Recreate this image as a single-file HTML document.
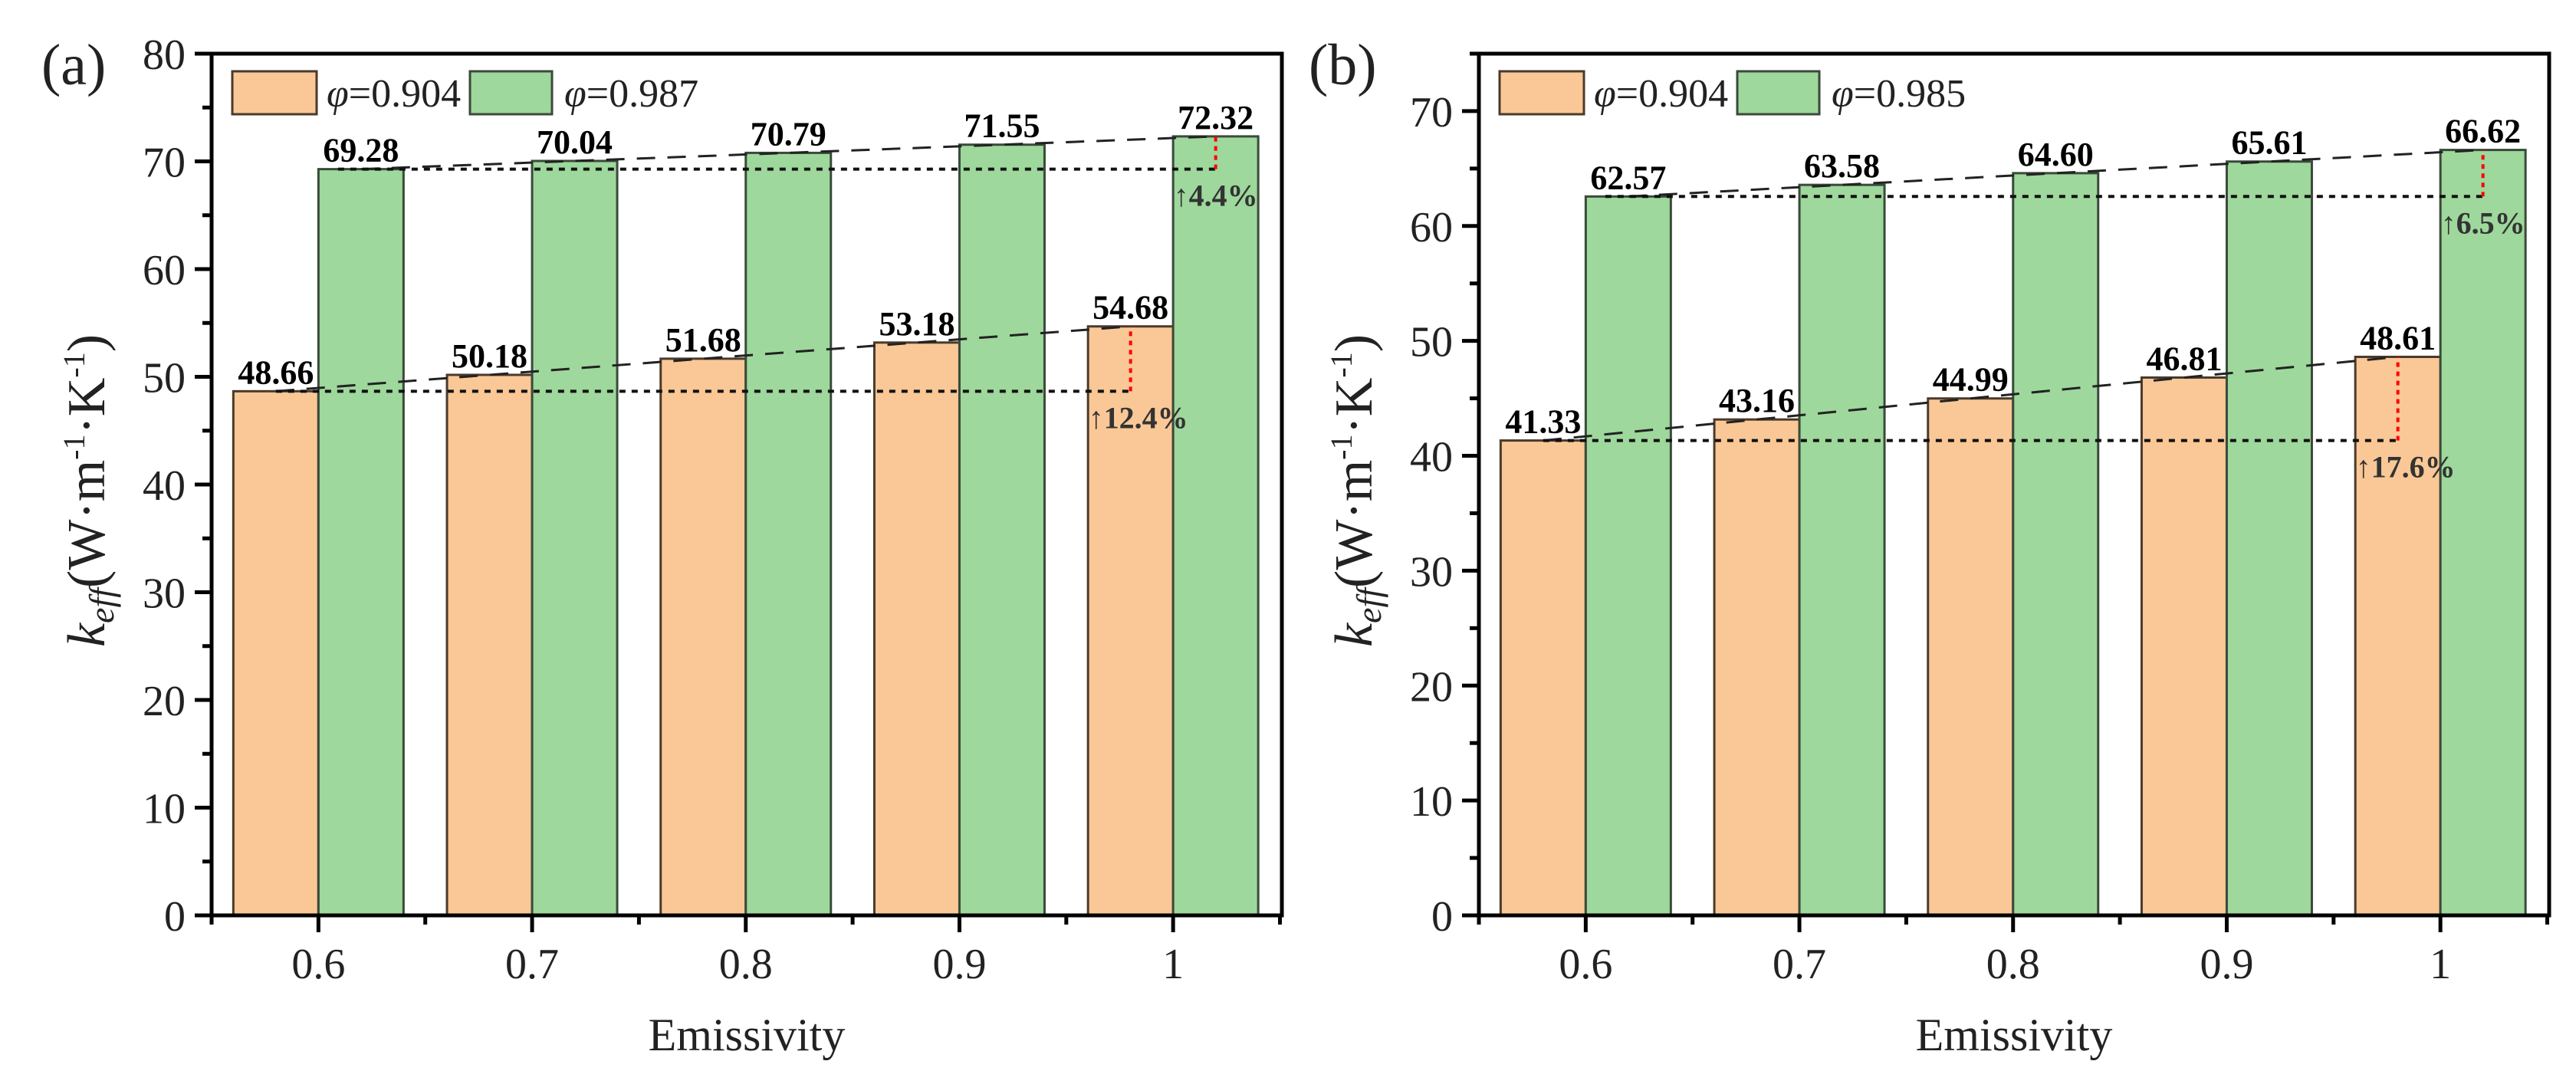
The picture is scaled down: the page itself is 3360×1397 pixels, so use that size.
<!DOCTYPE html>
<html><head><meta charset="utf-8"><style>
html,body{margin:0;padding:0;background:#fff;}
svg{display:block;font-family:"Liberation Serif",serif;}
</style></head><body>
<svg id="chart" width="3360" height="1397" viewBox="0 0 3360 1397" xmlns="http://www.w3.org/2000/svg"></svg>
<script>
const categories = ["0.6","0.7","0.8","0.9","1"];
const seriesA1 = [48.66,50.18,51.68,53.18,54.68];
const seriesA2 = [69.28,70.04,70.79,71.55,72.32];
const seriesB1 = [41.33,43.16,44.99,46.81,48.61];
const seriesB2 = [62.57,63.58,64.60,65.61,66.62];
const legendA = ["φ=0.904","φ=0.987"];
const legendB = ["φ=0.904","φ=0.985"];
const ticksA = [0,10,20,30,40,50,60,70,80];
const ticksB = [0,10,20,30,40,50,60,70];
const pctA = ["12.4%","4.4%"];
const pctB = ["17.6%","6.5%"];

const NS="http://www.w3.org/2000/svg";
const svg=document.getElementById('chart');
function mk(tag,attrs,parent,text){const e=document.createElementNS(NS,tag);for(const k in attrs)e.setAttribute(k,attrs[k]);if(text!==undefined)e.textContent=text;(parent||svg).appendChild(e);return e;}

function panel(ox,ymax,s1,s2,ticks,leg,pct,letter,id){
  const L=ox, R=ox+1396, T=70, B=1194, step=278.7, bw=111;
  const g=mk('g',{});
  
  
  const y=v=>B-(v/ymax)*(B-T);
  const xc=i=>L+139.35+i*step;
  for(let i=0;i<categories.length;i++){
    const r1=mk('rect',{x:xc(i)-bw,y:y(s1[i]),width:bw,height:B-y(s1[i]),fill:'#FAC896',stroke:'#4a3a2c','stroke-width':3},g);
    
    
    const r2=mk('rect',{x:xc(i),y:y(s2[i]),width:bw,height:B-y(s2[i]),fill:'#9ED89C',stroke:'#3a4a3a','stroke-width':3},g);
    
    
    const t1=mk('text',{x:xc(i)-bw/2,y:y(s1[i])-10,'font-size':44,'font-weight':'bold','text-anchor':'middle'},g,s1[i].toFixed(2));
    
    
    const t2=mk('text',{x:xc(i)+bw/2,y:y(s2[i])-10,'font-size':44,'font-weight':'bold','text-anchor':'middle'},g,s2[i].toFixed(2));
    
    
  }
  [[s1,-1],[s2,1]].forEach(([s,d],k)=>{
    const pts=s.map((v,i)=>(xc(i)+d*bw/2)+','+y(v)).join(' ');
    const pl=mk('polyline',{points:pts,fill:'none',stroke:'#222','stroke-width':3,'stroke-dasharray':'24,16'},g);
    
    
    const n=s.length-1, rx=xc(n)+d*bw/2;
    const ref=mk('line',{x1:xc(0)+d*bw/2-(d<0?0:30),y1:y(s[0]),x2:rx,y2:y(s[0]),stroke:'#111','stroke-width':4,'stroke-dasharray':'8,8'},g);
    
    
    const rd=mk('line',{x1:rx,y1:y(s[0]),x2:rx,y2:y(s[n]),stroke:'#f00','stroke-width':4,'stroke-dasharray':'6,6'},g);
    
    
    const pt=mk('text',{x:rx-55,y:y(s[0])+48,'font-size':40,'font-weight':'bold',fill:'#333'},g,'↑'+pct[k]);
    
    
  });
  const fr=mk('rect',{x:L,y:T,width:R-L,height:B-T,fill:'none',stroke:'#000','stroke-width':5},g);
  
  
  for(let v=0; v<=ymax; v+=5){
    const major=v%10===0;
    mk('line',{x1:L-(major?22:12),y1:y(v),x2:L,y2:y(v),stroke:'#000','stroke-width':5},g);
  }
  ticks.forEach(v=>{
    const t=mk('text',{x:L-34,y:y(v)+20,'font-size':56,'text-anchor':'end',fill:'#222'},g,String(v));
    
    
  });
  mk('line',{x1:L,y1:B,x2:L,y2:B+12,stroke:'#000','stroke-width':5},g);
  categories.forEach((c,i)=>{
    mk('line',{x1:xc(i),y1:B,x2:xc(i),y2:B+22,stroke:'#000','stroke-width':5},g);
    mk('line',{x1:xc(i)+step/2,y1:B,x2:xc(i)+step/2,y2:B+12,stroke:'#000','stroke-width':5},g);
    const t=mk('text',{x:xc(i),y:B+82,'font-size':56,'text-anchor':'middle',fill:'#222'},g,c);
    
    
  });
  const xt=mk('text',{x:L+698,y:1370,'font-size':60,'text-anchor':'middle',fill:'#222'},g,'Emissivity');
  
  
  const yt=mk('text',{x:0,y:0,'font-size':70,'text-anchor':'middle',fill:'#222',transform:`translate(${L-140},640) rotate(-90)`},g);
  
  
  mk('tspan',{'font-style':'italic'},yt,'k');
  mk('tspan',{'font-style':'italic','font-size':46,dy:12},yt,'eff');
  mk('tspan',{dy:-12},yt,'(W·m');
  mk('tspan',{'font-size':40,dy:-26},yt,'-1');
  mk('tspan',{dy:26},yt,'·K');
  mk('tspan',{'font-size':40,dy:-26},yt,'-1');
  mk('tspan',{dy:26},yt,')');
  const lt=mk('text',{x:L-222,y:110,'font-size':76,fill:'#222'},g,letter);
  
  
  const lg=mk('g',{},g);
  
  
  const s1r=mk('rect',{x:L+27,y:93,width:110,height:56,fill:'#FAC896',stroke:'#4a3a2c','stroke-width':3},lg);
  
  
  const l1=mk('text',{x:L+150,y:139,'font-size':52,fill:'#222'},lg);
  
  
  mk('tspan',{'font-style':'italic'},l1,'φ');mk('tspan',{},l1,leg[0].slice(1));
  const s2r=mk('rect',{x:L+337,y:93,width:107,height:56,fill:'#9ED89C',stroke:'#3a4a3a','stroke-width':3},lg);
  
  
  const l2=mk('text',{x:L+460,y:139,'font-size':52,fill:'#222'},lg);
  
  
  mk('tspan',{'font-style':'italic'},l2,'φ');mk('tspan',{},l2,leg[1].slice(1));
}
panel(276,80,seriesA1,seriesA2,ticksA,legendA,pctA,'(a)','a');
panel(1929,75,seriesB1,seriesB2,ticksB,legendB,pctB,'(b)','b');
</script>
</body></html>
